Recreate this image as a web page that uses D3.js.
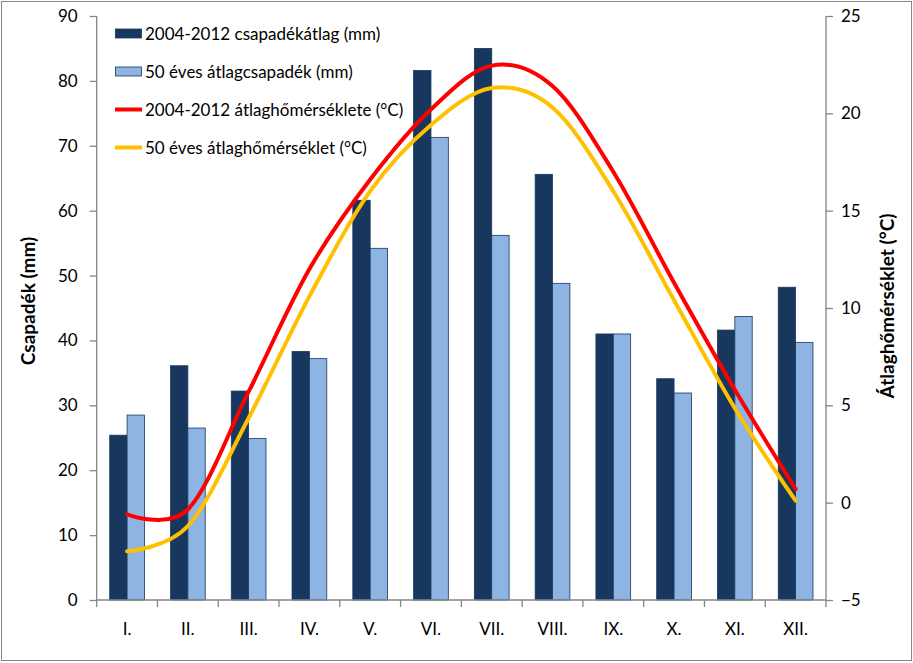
<!DOCTYPE html>
<html>
<head>
<meta charset="utf-8">
<script src="https://cdn.jsdelivr.net/npm/d3@7"></script>
<style>
  html, body { margin: 0; padding: 0; background: #fff; }
  svg { display: block; }
  text { font-family: Lato, "Open Sans", sans-serif; fill: #000; }
</style>
</head>
<body>
<svg id="chart" width="913" height="663"></svg>
<script>
const months = ["I.", "II.", "III.", "IV.", "V.", "VI.", "VII.", "VIII.", "IX.", "X.", "XI.", "XII."];
const precip2004 = [25.4, 36.1, 32.2, 38.3, 61.6, 81.6, 85.0, 65.6, 41.0, 34.1, 41.6, 48.2];
const precip50 = [28.5, 26.5, 24.9, 37.2, 54.2, 71.3, 56.2, 48.8, 41.0, 31.9, 43.7, 39.7];
const temp2004 = [-0.6, -0.35, 5.7, 12.0, 16.6, 20.2, 22.45, 21.4, 17.0, 11.3, 5.8, 0.7];
const temp50 = [-2.5, -1.2, 4.35, 10.6, 16.0, 19.4, 21.3, 20.3, 16.0, 10.4, 4.85, 0.1];
const leftTicks = [0, 10, 20, 30, 40, 50, 60, 70, 80, 90];
const rightTicks = [-5, 0, 5, 10, 15, 20, 25];
const seriesNames = [
  "2004-2012 csapadékátlag (mm)",
  "50 éves átlagcsapadék (mm)",
  "2004-2012 átlaghőmérséklete (°C)",
  "50 éves átlaghőmérséklet (°C)"
];
const leftTitle = "Csapadék (mm)";
const rightTitle = "Átlaghőmérséklet (°C)";

const colDark = "#17375E", colLight = "#8EB4E3", colRed = "#FF0000", colOrange = "#FFC000";
const axisCol = "#868686";

const svg = d3.select("#chart");
const plot = { left: 96.7, right: 826, top: 16, bottom: 600 };

// outer frame
svg.append("rect").attr("x", 1.5).attr("y", 1.5).attr("width", 910).attr("height", 659)
  .attr("fill", "#fff").attr("stroke", axisCol).attr("stroke-width", 1);

const x = d3.scaleBand().domain(months).range([plot.left, plot.right]).paddingInner(0).paddingOuter(0);
const xs = d3.scaleBand().domain(["a", "b"]).range([0, x.bandwidth()]).paddingInner(0).paddingOuter(0.75);
const yL = d3.scaleLinear().domain([0, 90]).range([plot.bottom, plot.top]);
const yR = d3.scaleLinear().domain([-5, 25]).range([plot.bottom, plot.top]);

// bars
const g = svg.append("g");
g.selectAll("rect.d").data(precip2004).join("rect")
  .attr("x", (d, i) => x(months[i]) + xs("a")).attr("y", d => yL(d))
  .attr("width", xs.bandwidth()).attr("height", d => yL(0) - yL(d))
  .attr("fill", colDark).attr("stroke", colDark).attr("stroke-width", 0.8);
g.selectAll("rect.l").data(precip50).join("rect")
  .attr("x", (d, i) => x(months[i]) + xs("b")).attr("y", d => yL(d))
  .attr("width", xs.bandwidth()).attr("height", d => yL(0) - yL(d))
  .attr("fill", colLight).attr("stroke", colDark).attr("stroke-width", 0.8);

// axes
const axL = d3.axisLeft(yL).tickValues(leftTicks).tickSize(7).tickPadding(12).tickFormat(d3.format("d"));
const axR = d3.axisRight(yR).tickValues(rightTicks).tickSize(7).tickPadding(8).tickFormat(d3.format("d"));
const axB = d3.axisBottom(x).tickSize(0).tickPadding(23);

function styleAxis(sel) {
  sel.select(".domain").attr("stroke", axisCol).attr("stroke-width", 1.3);
  sel.selectAll(".tick line").attr("stroke", axisCol).attr("stroke-width", 1.3);
  sel.selectAll(".tick text").style("font-size", "17px").attr("fill", "#000");
  sel.attr("font-family", null);
}
const gL = svg.append("g").attr("transform", `translate(${plot.left},0)`).call(axL).call(styleAxis);
gL.select(".domain").attr("d", `M0,${plot.top}V${plot.bottom}`);
const gR = svg.append("g").attr("transform", `translate(${plot.right},0)`).call(axR).call(styleAxis);
gR.select(".domain").attr("d", `M0,${plot.top}V${plot.bottom}`);
const gB = svg.append("g").attr("transform", `translate(0,${plot.bottom})`).call(axB).call(styleAxis);
gB.select(".domain").attr("d", `M${plot.left},0H${plot.right}`);
// category boundary ticks
gB.selectAll("line.cb").data(months.concat(["end"])).join("line").attr("class", "cb")
  .attr("x1", (d, i) => i < months.length ? x(d) : plot.right)
  .attr("x2", (d, i) => i < months.length ? x(d) : plot.right)
  .attr("y1", 0).attr("y2", 7).attr("stroke", axisCol).attr("stroke-width", 1.3);

// lines
const line = d3.line().x((d, i) => x(months[i]) + x.bandwidth() / 2).y(d => yR(d)).curve(d3.curveCardinal.tension(0));
svg.append("path").datum(temp50).attr("d", line).attr("fill", "none").attr("stroke", colOrange).attr("stroke-width", 4).attr("stroke-linecap", "round");
svg.append("path").datum(temp2004).attr("d", line).attr("fill", "none").attr("stroke", colRed).attr("stroke-width", 4).attr("stroke-linecap", "round");

// axis titles
svg.append("text").attr("transform", "translate(35,301) rotate(-90)").attr("text-anchor", "middle")
  .style("font-size", "19px").style("font-weight", "bold").text(leftTitle);
svg.append("text").attr("transform", "translate(894,306) rotate(-90)").attr("text-anchor", "middle")
  .style("font-size", "19px").style("font-weight", "bold").text(rightTitle);

// legend
const legY = [33.5, 71.5, 109.5, 147.5];
const leg = svg.append("g");
seriesNames.forEach((name, i) => {
  const yy = legY[i];
  if (i < 2) {
    leg.append("rect").attr("x", 115.5).attr("y", yy - 4.5).attr("width", 26).attr("height", 9)
      .attr("fill", i === 0 ? colDark : colLight).attr("stroke", colDark).attr("stroke-width", 0.8);
  } else {
    leg.append("line").attr("x1", 115).attr("x2", 142).attr("y1", yy).attr("y2", yy)
      .attr("stroke", i === 2 ? colRed : colOrange).attr("stroke-width", 4);
  }
  leg.append("text").attr("x", 145).attr("y", yy).attr("dy", "0.36em").style("font-size", "17px").text(name);
});
</script>
</body>
</html>
